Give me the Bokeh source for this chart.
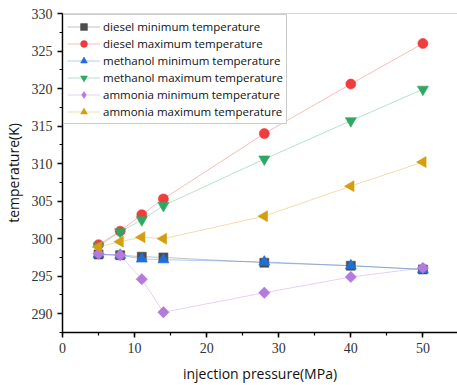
from bokeh.plotting import figure
from bokeh.models import Range1d, SingleIntervalTicker, Span, Legend, LegendItem, ColumnDataSource
from bokeh.embed import file_html
from bokeh.resources import INLINE

pressure = [5, 8, 11, 14, 28, 40, 50]

diesel_min = [297.9, 297.8, 297.6, 297.5, 296.8, 296.4, 295.9]
diesel_max = [299.2, 301.0, 303.2, 305.3, 314.0, 320.6, 326.0]
methanol_min = [297.9, 297.8, 297.3, 297.2, 296.9, 296.4, 295.9]
methanol_max = [299.0, 300.9, 302.5, 304.4, 310.6, 315.7, 319.9]
ammonia_min = [298.0, 297.8, 294.6, 290.2, 292.8, 294.9, 296.1]
ammonia_max = [298.9, 299.6, 300.2, 300.0, 303.0, 307.0, 310.2]

# label, values, colour, marker, size, rotation (rad), legend marker
series = [
    ("diesel minimum temperature", diesel_min, "#4d4d4d", "square", 9, 0.0, None),
    ("diesel maximum temperature", diesel_max, "#f03c3c", "circle", 10, 0.0, None),
    ("methanol minimum temperature", methanol_min, "#1f6fd8", "triangle", 11, 0.0, None),
    ("methanol maximum temperature", methanol_max, "#2ea862", "inverted_triangle", 11, 0.0, None),
    ("ammonia minimum temperature", ammonia_min, "#b47ae0", "square", 8, 0.7854, "diamond"),
    ("ammonia maximum temperature", ammonia_max, "#d69e0f", "triangle", 11, 1.5708, None),
]

p = figure(width=457, height=385, output_backend="svg", toolbar_location=None,
           x_range=Range1d(0, 54.8), y_range=Range1d(287.5, 330),
           min_border_left=60, min_border_right=0, min_border_top=13,
           min_border_bottom=50)
p.outline_line_color = None
p.xgrid.visible = False
p.ygrid.visible = False
p.background_fill_color = "white"

p.add_layout(Span(location=330, dimension="width", line_color="#b0b0b0", line_width=1))

items = []
for label, ys, color, marker, size, rot, lg_marker in series:
    src = ColumnDataSource(dict(x=pressure, y=ys, rot=[rot] * len(pressure)))
    ln = p.line("x", "y", source=src, line_color=color, line_alpha=0.35, line_width=1)
    key = None
    if lg_marker:
        # legend swatches are drawn unrotated: a key glyph on the first point,
        # tucked under the rotated marker, supplies the legend shape
        key = p.scatter(x=pressure[:1], y=ys[:1], marker=lg_marker, size=11,
                        fill_color=color, line_color=color, line_alpha=0.6)
    sc = p.scatter("x", "y", source=src, marker=marker, size=size, fill_color=color,
                   line_color=color, line_alpha=0.6, angle="rot")
    items.append(LegendItem(label=label, renderers=[ln, key or sc], index=0))

p.xaxis.ticker = SingleIntervalTicker(interval=10, num_minor_ticks=2)
p.yaxis.ticker = SingleIntervalTicker(interval=5, num_minor_ticks=2)
for ax in (p.xaxis[0], p.yaxis[0]):
    ax.axis_line_color = "black"
    ax.axis_line_width = 1.5
    ax.major_tick_line_color = "black"
    ax.major_tick_line_width = 1.5
    ax.minor_tick_line_color = "black"
    ax.minor_tick_line_width = 1.2
    ax.major_tick_out = 5
    ax.major_tick_in = 0
    ax.minor_tick_out = 3
    ax.minor_tick_in = 0
    ax.major_label_text_font = "'Liberation Serif', serif"
    ax.major_label_text_font_size = "14px"
    ax.major_label_text_color = "#333333"
    ax.axis_label_text_font = "Open Sans"
    ax.axis_label_text_font_size = "14px"
    ax.axis_label_text_font_style = "normal"
    ax.axis_label_text_color = "#111111"

p.xaxis.axis_label = "injection pressure(MPa)"
p.yaxis.axis_label = "temperature(K)"
p.xaxis.axis_label_standoff = 8
p.yaxis.axis_label_standoff = 6

lg = Legend(items=items, location="top_left")
lg.margin = 1
lg.padding = 3
lg.spacing = 0
lg.label_height = 17
lg.glyph_height = 17
lg.glyph_width = 33
lg.label_standoff = 3
lg.label_text_font = "Open Sans"
lg.label_text_font_size = "11.5px"
lg.label_text_color = "#111111"
lg.border_line_color = "#999999"
lg.border_line_width = 1
lg.background_fill_alpha = 1
p.add_layout(lg, "center")

open("out.html", "w").write(file_html(p, INLINE))
